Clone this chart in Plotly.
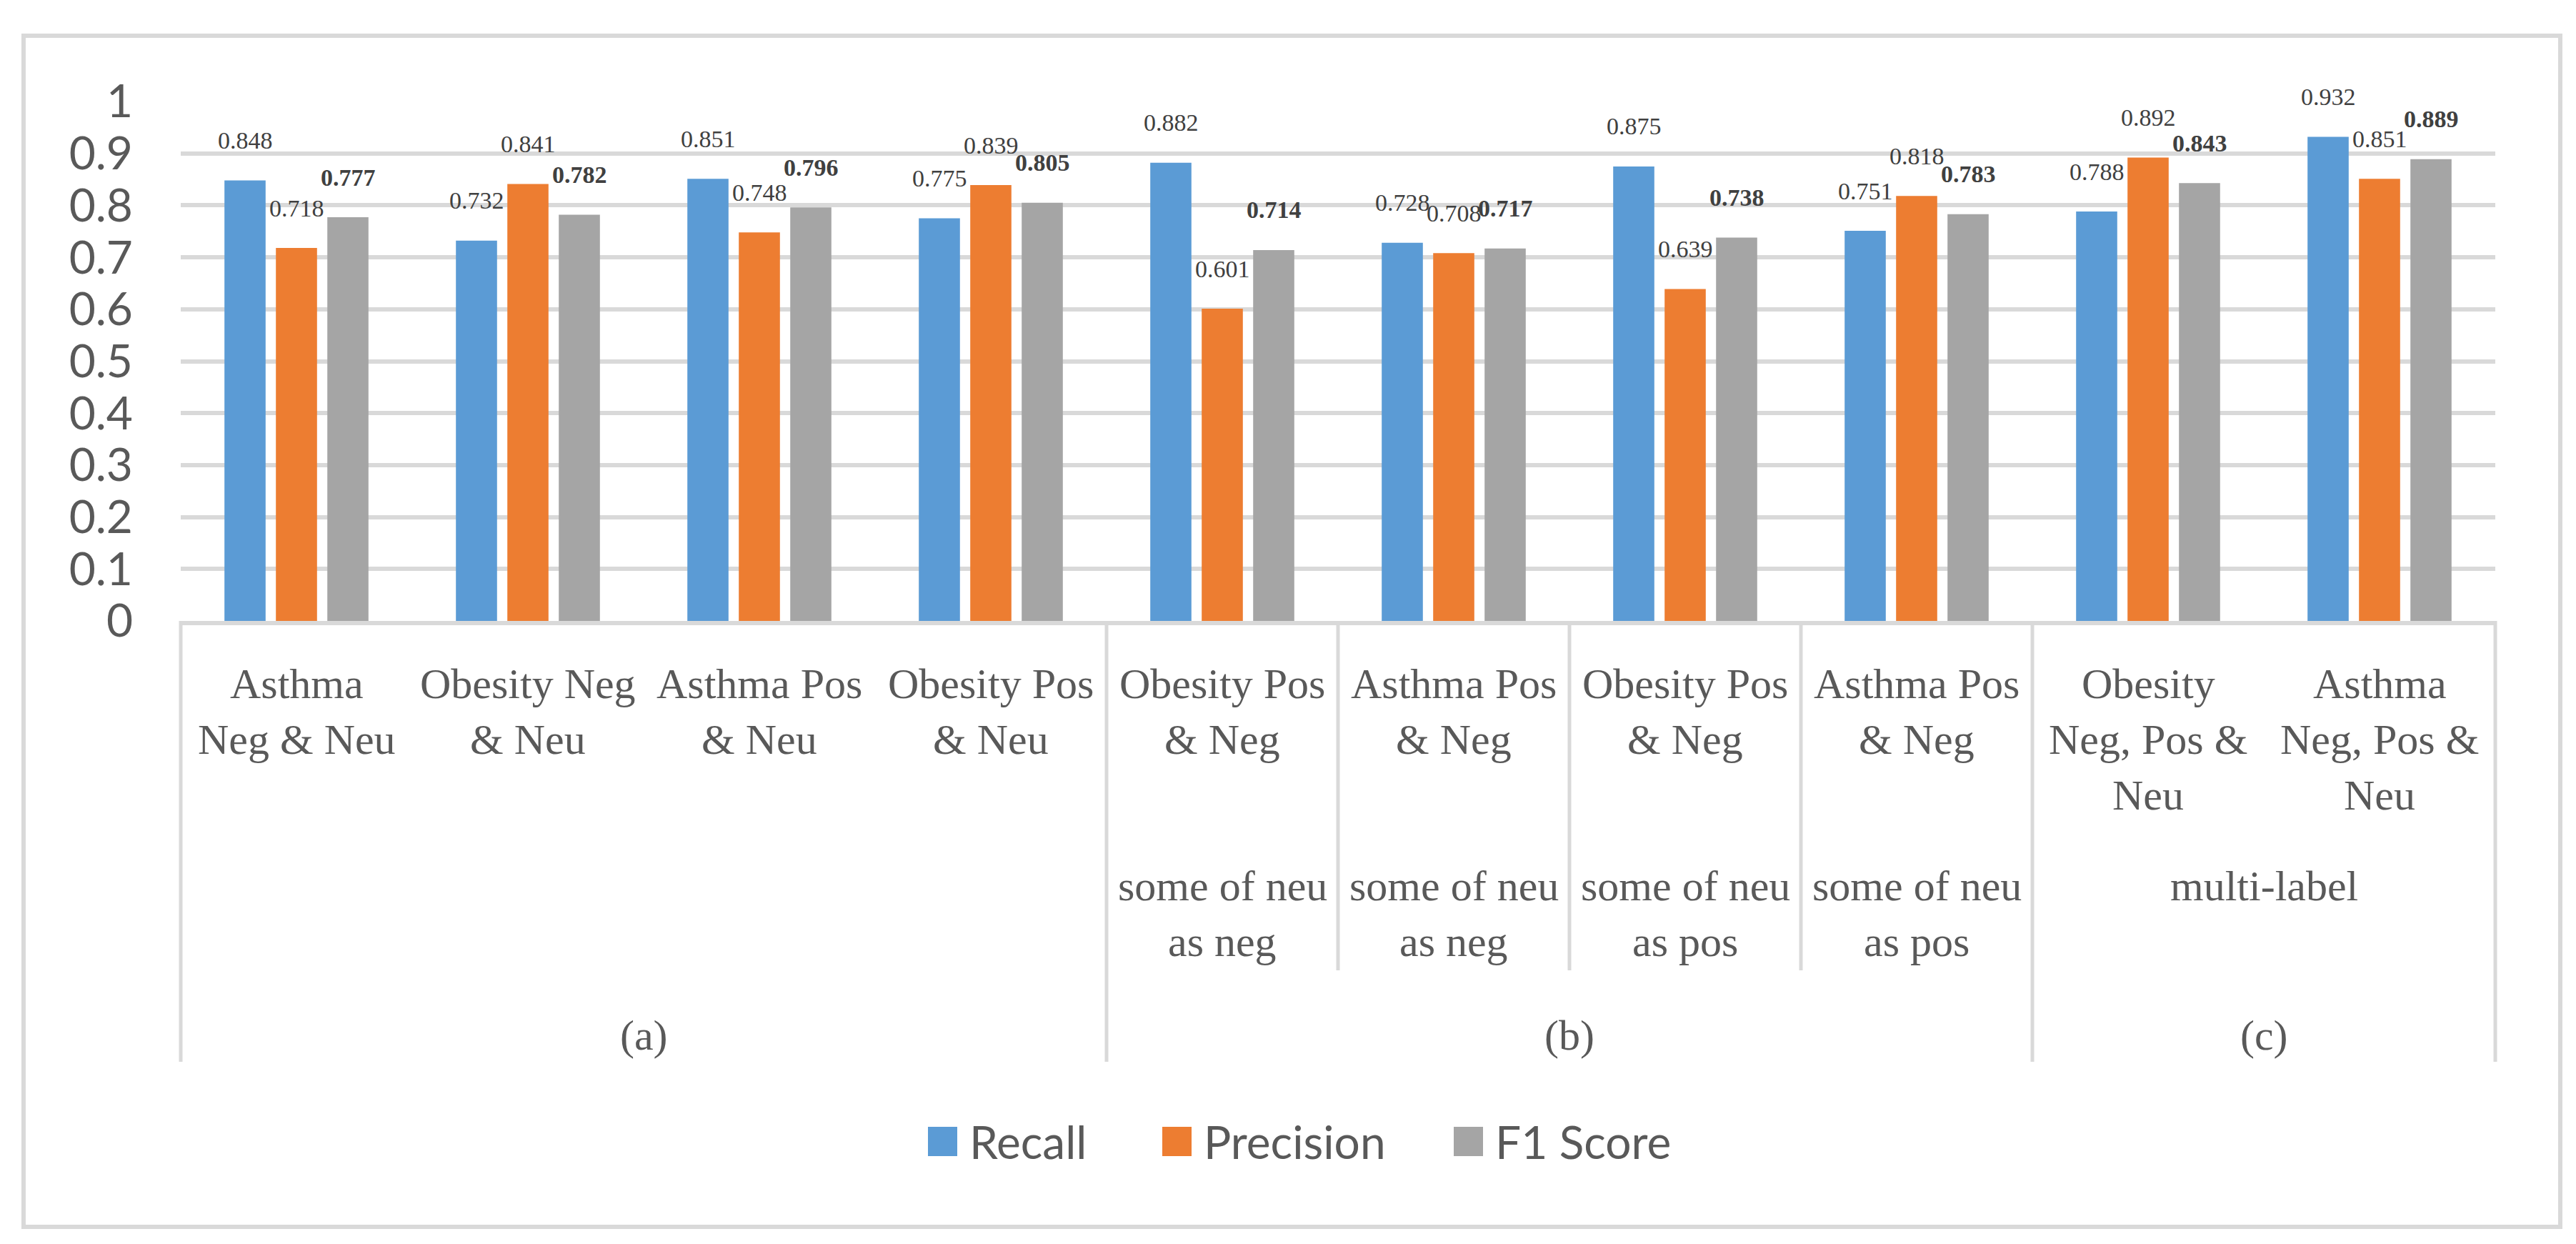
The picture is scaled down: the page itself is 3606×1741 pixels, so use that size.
import plotly.graph_objects as go

# ---------------- data ----------------
categories = [
    "Asthma\nNeg & Neu", "Obesity Neg\n& Neu", "Asthma Pos\n& Neu", "Obesity Pos\n& Neu",
    "Obesity Pos\n& Neg", "Asthma Pos\n& Neg", "Obesity Pos\n& Neg", "Asthma Pos\n& Neg",
    "Obesity\nNeg, Pos &\nNeu", "Asthma\nNeg, Pos &\nNeu",
]
# middle level: (label, first category index, number of categories)
subgroups = [
    ("some of neu\nas neg", 4, 1),
    ("some of neu\nas neg", 5, 1),
    ("some of neu\nas pos", 6, 1),
    ("some of neu\nas pos", 7, 1),
    ("multi-label", 8, 2),
]
# outer level: (label, first category index, number of categories)
groups = [("(a)", 0, 4), ("(b)", 4, 4), ("(c)", 8, 2)]

series_names = ["Recall", "Precision", "F1 Score"]
recall = [0.848, 0.732, 0.851, 0.775, 0.882, 0.728, 0.875, 0.751, 0.788, 0.932]
precision = [0.718, 0.841, 0.748, 0.839, 0.601, 0.708, 0.639, 0.818, 0.892, 0.851]
f1_score = [0.777, 0.782, 0.796, 0.805, 0.714, 0.717, 0.738, 0.783, 0.843, 0.889]
series_values = [recall, precision, f1_score]
series_colors = ["#5B9BD5", "#ED7D31", "#A5A5A5"]
label_bold = [False, False, True]

# ---------------- geometry (pixels) ----------------
W, H = 3606, 1741
L, R, T, B = 245, 3485, 134, 861
BARGAP = 1 / 3
GRID = "#D9D9D9"
TXT = "#595959"
LBL = "#404040"

n = len(categories)
xs = list(range(n))


def px(xp):
    return (xp - L) / (R - L)


def py(yp):
    return (B - yp) / (B - T)


fig = go.Figure()
for name, vals, col in zip(series_names, series_values, series_colors):
    fig.add_trace(go.Bar(x=xs, y=vals, name=name, marker=dict(color=col, line=dict(width=0)),
                         showlegend=False))

cat_w = (R - L) / n
slot = cat_w * (1 - BARGAP) / len(series_names)

annotations = []
# data labels
for k, (vals, bold) in enumerate(zip(series_values, label_bold)):
    for i, v in enumerate(vals):
        txt = f"{v:.3f}"
        if bold:
            txt = f"<b>{txt}</b>"
        annotations.append(dict(
            x=i, y=v, xref="x", yref="y", text=txt, showarrow=False,
            xshift=(k - 1) * slot, yshift=56, yanchor="middle", xanchor="center",
            font=dict(family="Liberation Serif", size=34, color=LBL)))

LINE = 78
CAT_FONT = dict(family="Liberation Serif", size=60, color=TXT)
# category labels
for i, c in enumerate(categories):
    for j, line in enumerate(c.split("\n")):
        annotations.append(dict(x=i, y=py(949 + j * LINE), xref="x", yref="paper",
                                text=line, showarrow=False, yanchor="middle",
                                xanchor="center", font=CAT_FONT))
# middle level labels
for lab, s, cnt in subgroups:
    xc = s + (cnt - 1) / 2
    for j, line in enumerate(lab.split("\n")):
        annotations.append(dict(x=xc, y=py(1232 + j * LINE), xref="x", yref="paper",
                                text=line, showarrow=False, yanchor="middle",
                                xanchor="center", font=CAT_FONT))
# outer level labels
for lab, s, cnt in groups:
    xc = s + (cnt - 1) / 2
    annotations.append(dict(x=xc, y=py(1441), xref="x", yref="paper", text=lab,
                            showarrow=False, yanchor="middle", xanchor="center",
                            font=CAT_FONT))

shapes = []
# outer border
shapes.append(dict(type="rect", xref="paper", yref="paper",
                   x0=px(25), x1=px(3576), y0=py(42), y1=py(1709),
                   line=dict(color=GRID, width=6), fillcolor="rgba(0,0,0,0)", layer="below"))
# category-axis separators
sub_edges = set()
for lab, s, cnt in subgroups:
    sub_edges.add(s)
    sub_edges.add(s + cnt)
grp_edges = set()
for lab, s, cnt in groups:
    grp_edges.add(s)
    grp_edges.add(s + cnt)
for e in sorted(sub_edges | grp_edges):
    bottom = 1478 if e in grp_edges else 1350
    shapes.append(dict(type="line", xref="paper", yref="paper",
                       x0=e / n, x1=e / n, y0=0, y1=py(bottom),
                       line=dict(color=GRID, width=5)))

# legend (drawn manually)
legend_sq = [1291, 1619, 2027]
for name, col, x0 in zip(series_names, series_colors, legend_sq):
    shapes.append(dict(type="rect", xref="paper", yref="paper",
                       x0=px(x0), x1=px(x0 + 41), y0=py(1569), y1=py(1610),
                       fillcolor=col, line=dict(width=0)))
    annotations.append(dict(x=px(x0 + 56), y=py(1589), xref="paper", yref="paper",
                            text=name, showarrow=False, xanchor="left", yanchor="middle",
                            font=dict(family="Lato", size=64, color=TXT)))

fig.update_layout(
    width=W, height=H,
    margin=dict(l=L, r=W - R, t=T, b=H - B, pad=0),
    paper_bgcolor="white", plot_bgcolor="white",
    barmode="group", bargap=BARGAP, bargroupgap=0.2,
    showlegend=False,
    annotations=annotations, shapes=shapes,
    xaxis=dict(range=[-0.5, n - 0.5], showticklabels=False, showgrid=False,
               zeroline=False, showline=True, linecolor=GRID, linewidth=6, ticks=""),
    yaxis=dict(range=[0, 1], dtick=0.1, tick0=0, showgrid=True, gridcolor=GRID,
               gridwidth=6, zeroline=False, showline=False, ticks="",
               ticklabelstandoff=66,
               tickfont=dict(family="Lato", size=64, color=TXT)),
)

fig.write_html("out.html")
